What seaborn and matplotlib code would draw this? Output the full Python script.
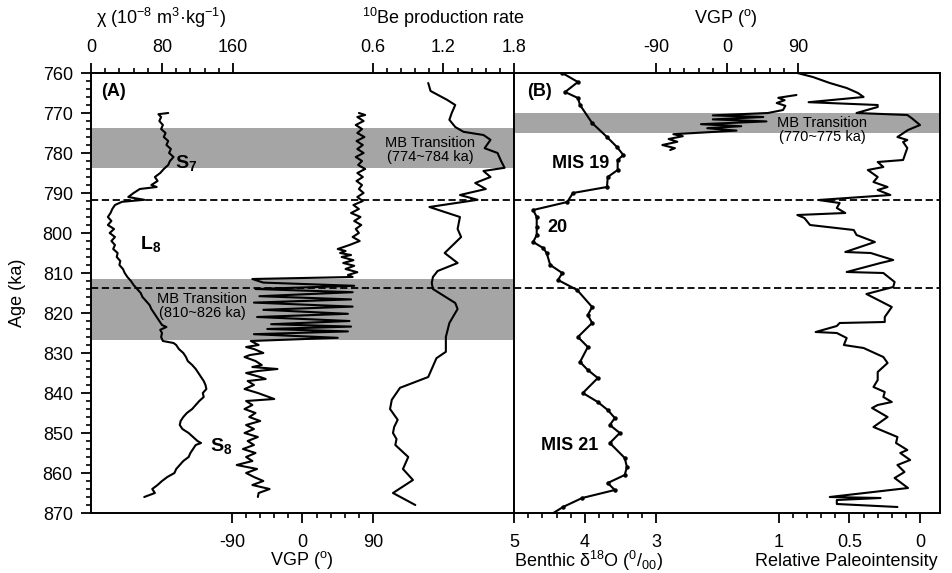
import numpy as np
import pandas as pd
import matplotlib
matplotlib.use('Agg')
import matplotlib.pyplot as plt
import seaborn as sns
from matplotlib.ticker import FixedLocator

sns.set_style('white')
plt.rcParams['font.family'] = ['Liberation Sans', 'DejaVu Sans']
plt.rcParams['mathtext.fontset'] = 'custom'
plt.rcParams['mathtext.rm'] = 'Liberation Sans'
plt.rcParams['mathtext.bf'] = 'Liberation Sans:bold'
plt.rcParams['mathtext.it'] = 'Liberation Sans:italic'
for k in ('text.color', 'axes.labelcolor', 'xtick.color', 'ytick.color'):
    plt.rcParams[k] = 'black'

# ---------------- data ----------------
chi_age = [770, 770.3, 771, 772, 773, 774, 775, 776, 777, 778, 779, 780, 781, 782, 783, 784, 785, 786,
           787, 788, 788.5, 789, 790, 791, 791.7, 792.2, 793, 794, 795, 796, 797, 798, 799, 800, 801,
           802, 803, 804, 805, 806, 807, 808, 809, 810, 811, 812, 813, 814, 815, 816, 817, 818, 819,
           820, 821, 822, 823, 823.5, 824.2, 825, 826, 827, 827.5, 828, 829, 830, 831, 832, 833, 834,
           835, 836, 837, 838, 839, 840, 841, 842, 843, 844, 845, 846, 847, 848, 849, 850, 851, 852,
           852.5, 853, 854, 855, 856, 857, 858, 859, 860, 861, 862, 863, 864, 865, 866]
chi_val = [87, 76, 79, 77, 81, 79, 84, 82, 87, 85, 90, 88, 93, 89, 87, 82, 78, 72,
           75, 68, 74, 55, 48, 42, 60, 35, 27, 24, 22, 19, 23, 19, 26, 21, 27,
           23, 27, 25, 30, 29, 33, 32, 36, 38, 41, 45, 48, 52, 56, 58, 62, 66, 68,
           71, 74, 77, 80, 85, 78, 80, 79, 81, 93, 96, 99, 104, 107, 109, 114, 118,
           121, 124, 127, 129, 130, 126, 127, 122, 118, 114, 108, 104, 101, 100, 103, 110, 115, 120,
           124, 118, 115, 112, 110, 104, 100, 96, 94, 86, 80, 75, 69, 72, 60]

vgpA_age = [770, 770.5, 771, 772, 773, 774, 775, 776, 777, 778, 779, 780, 781, 782, 783, 784, 785,
            786, 787, 788, 789, 790, 791, 792, 793, 794, 795, 796, 797, 798, 799, 800, 801, 802,
            803, 804, 804.5, 805, 805.5, 806, 806.8, 807.5, 808.2, 809, 809.8, 810.5, 811,
            811.5, 812.4, 813.2, 814.0, 814.8, 815.8, 816.6, 817.4, 818.4, 819.2, 820.2,
            821.0, 822.0, 822.8, 823.4, 824.0, 824.6, 825.3, 826.2,
            827, 828, 828.5, 829, 830, 830.5, 831, 832, 833, 833.5, 834, 834.5, 835, 836, 836.5,
            837, 838, 839, 840, 841.5, 842, 843, 844, 845, 846, 847, 848, 849, 850, 851, 852,
            853, 854, 855, 856, 857, 858, 859, 860, 861, 862, 863, 864, 865, 866]
vgpA_val = [72, 80, 70, 78, 68, 76, 70, 79, 69, 77, 70, 78, 68, 76, 71, 80, 70,
            77, 69, 76, 72, 78, 70, 77, 65, 72, 62, 74, 66, 75, 68, 72, 64, 73,
            60, 45, 55, 48, 62, 50, 65, 52, 66, 55, 70, 58, 64,
            -64, -50, 66, -60, 64, -55, 62, -62, 64, -50, 58,
            -58, 60, -40, 62, -45, 58, -62, 45,
            -66, -56, -72, -62, -50, -67, -74, -60, -52, -64, -32, -57, -72, -54, -47,
            -70, -62, -74, -57, -36, -72, -64, -74, -60, -68, -54, -72, -62, -74, -57, -70,
            -62, -76, -60, -72, -64, -84, -58, -72, -62, -50, -64, -42, -56, -57]

be_age = [762.5, 764.5, 766.7, 768, 770, 771.7, 773.5, 774.7, 775.5, 776.7, 778.8, 780, 782, 783.7,
          784.5, 786, 787.5, 789, 790.5, 791.7, 793.5, 796, 799, 801, 803, 805, 807.5, 809.5, 811,
          812.5, 814, 817.5, 819, 822.5, 826, 829.7, 831.3, 836, 838.7, 841.7, 844, 846.7, 848.5,
          850, 851.5, 853, 856, 859, 861.75, 865, 868]
be_val = [1.07, 1.09, 1.23, 1.30, 1.27, 1.25, 1.30, 1.37, 1.54, 1.60, 1.55, 1.66, 1.69, 1.72,
          1.54, 1.60, 1.47, 1.56, 1.34, 1.49, 1.08, 1.34, 1.32, 1.35, 1.28, 1.21, 1.32, 1.15, 1.11,
          1.10, 1.11, 1.30, 1.32, 1.25, 1.22, 1.22, 1.14, 1.07, 0.83, 0.76, 0.745, 0.81, 0.78,
          0.77, 0.80, 0.79, 0.90, 0.855, 0.94, 0.77, 0.96]

d18o_age = [760, 762.25, 764.75, 766.25, 768, 772.5, 776, 778.5, 780.5, 781.75, 784.25, 786, 788.5,
            790, 792.25, 794.25, 796, 798.5, 800.5, 802.25, 803.75, 805, 808, 810, 811.75, 814.25,
            818.5, 820.5, 822.5, 826, 828.5, 832.25, 834.25, 836.25, 840, 842.25, 844.25, 846.25,
            848, 850, 852.5, 856.25, 858.5, 860.5, 862.5, 864.25, 866.25, 868.5, 870.5]
d18o_val = [4.32, 4.10, 4.28, 4.10, 4.07, 3.90, 3.69, 3.55, 3.46, 3.54, 3.54, 3.68, 3.69,
            4.17, 4.25, 4.73, 4.68, 4.68, 4.68, 4.73, 4.59, 4.54, 4.49, 4.32, 4.38, 4.11,
            3.90, 3.96, 3.90, 4.10, 3.96, 4.07, 3.96, 3.82, 4.03, 3.82, 3.68, 3.58,
            3.65, 3.51, 3.65, 3.44, 3.41, 3.44, 3.68, 3.58, 4.04, 4.31, 4.49]

vgpB_age = [765.5, 766.2, 766.8, 767.5, 768.2, 769.25, 770.0, 770.6, 771.0, 771.6, 772.1, 772.8,
            773.3, 773.8, 774.4, 775.3, 775.8, 776.5, 777.2, 778.0, 778.8, 779.25]
vgpB_val = [88, 65, 73, 63, 74, 71, 52, -18, 46, -18, 50, -33,
            18, -25, 12, -68, -56, -74, -63, -82, -66, -72]

rpi_age = [760, 761, 762.5, 763.75, 765, 766, 767.3, 768, 768.5, 770, 770.5, 771.25, 773, 774.25,
           776, 776.75, 777.25, 778.75, 781.75, 782.25, 783.5, 784.25, 786, 787.25, 788.5, 789.25,
           790.5, 791.75, 792.5, 793.75, 795, 795.5, 796.25, 798, 799.25, 800.5, 802.25, 804.75,
           805, 806.75, 807.5, 809.75, 810, 812.25, 813.5, 815.25, 818.5, 821, 822.25, 822.5,
           823.25, 824.75, 825, 826.25, 828, 828.75, 831, 832.5, 834.75, 836.75, 838.5, 839.75,
           841, 842.25, 843, 843.75, 846, 848.5, 851, 852.5, 854.25, 855, 856.75, 858, 859.75,
           861.25, 863.75, 866, 866.25, 866.75, 867.75, 868.5]
rpi_val = [0.87, 0.76, 0.64, 0.52, 0.44, 0.40, 0.79, 0.30, 0.30, 0.45, 0.09, 0.06, 0.0, 0.085,
           0.16, 0.09, 0.12, 0.09, 0.12, 0.30, 0.26, 0.37, 0.30, 0.33, 0.23, 0.30,
           0.21, 0.72, 0.57, 0.59, 0.53, 0.87, 0.82, 0.78, 0.47, 0.45, 0.32, 0.53,
           0.35, 0.19, 0.28, 0.52, 0.26, 0.18, 0.19, 0.38, 0.20, 0.25, 0.25, 0.57,
           0.59, 0.74, 0.59, 0.52, 0.54, 0.40, 0.26, 0.23, 0.30, 0.30, 0.33, 0.25,
           0.26, 0.20, 0.30, 0.34, 0.23, 0.33, 0.16, 0.17, 0.09, 0.14, 0.07, 0.16, 0.11,
           0.18, 0.085, 0.64, 0.28, 0.59, 0.59, 0.16]

bands_A = [(773.8, 783.8), (811.5, 826.8)]
bands_B = [(770.0, 775.0)]
dashed_ages = [791.8, 813.8]

age_ticks = list(range(760, 871, 10))
chi_ticks = [0, 80, 160]
be_ticks = [0.6, 1.2, 1.8]
vgp_ticks = [-90, 0, 90]
d18o_ticks = [5, 4, 3]
rpi_ticks = [1, 0.5, 0]

# ---------------- figure ----------------
W, H = 953, 573
fig = plt.figure(figsize=(W / 100, H / 100), dpi=100)


def rect(x0, y0, x1, y1):
    return [x0 / W, 1 - y1 / H, (x1 - x0) / W, (y1 - y0) / H]


def T(x, y, s, **kw):
    kw.setdefault('ha', 'center')
    kw.setdefault('va', 'center')
    fig.text(x / W, 1 - y / H, s, **kw)


axA = fig.add_axes(rect(91, 73, 514, 513))
axB = fig.add_axes(rect(514, 73, 940, 513))

LW = 1.5
TICKFS = 13

for ax in (axA, axB):
    for sp in ax.spines.values():
        sp.set_visible(True)
        sp.set_linewidth(1.4)
        sp.set_color('black')
    ax.set_facecolor('white')


def style_x(ax, major, minor, side):
    ax.xaxis.set_major_locator(FixedLocator(major))
    ax.xaxis.set_minor_locator(FixedLocator(minor))
    ax.xaxis.set_ticks_position(side)
    ax.tick_params(axis='x', which='major', direction='out', length=7, width=1.3,
                   labelsize=TICKFS, pad=(5 if side == 'top' else 8), color='black')
    ax.tick_params(axis='x', which='minor', direction='out', length=3.5, width=1.2, color='black')
    ax.set_xticklabels([('%g' % t) for t in major])
    ax.set_xlabel('')


# ---- Panel A ----
axA_chi = axA.twiny()
axA_be = axA.twiny()
for tw in (axA_chi, axA_be):
    for sp in tw.spines.values():
        sp.set_visible(False)

for a, b in bands_A:
    axA.axhspan(a, b, color='#a5a5a5', lw=0, zorder=0)
for y in dashed_ages:
    axA.axhline(y, color='black', lw=1.3, ls=(0, (4, 2)), zorder=1)
    axB.axhline(y, color='black', lw=1.3, ls=(0, (4, 2)), zorder=1)

dfA_vgp = pd.DataFrame({'age': vgpA_age, 'vgp': vgpA_val})
dfA_chi = pd.DataFrame({'age': chi_age, 'chi': chi_val})
dfA_be = pd.DataFrame({'age': be_age, 'be': be_val})
sns.lineplot(data=dfA_vgp, x='vgp', y='age', sort=False, estimator=None, ax=axA, color='black', lw=LW, zorder=3)
sns.lineplot(data=dfA_chi, x='chi', y='age', sort=False, estimator=None, ax=axA_chi, color='black', lw=LW)
sns.lineplot(data=dfA_be, x='be', y='age', sort=False, estimator=None, ax=axA_be, color='black', lw=LW)

axA.set_xlim(-270, 270)
axA_chi.set_xlim(0, 160 * 423 / 142)
axA_be.set_xlim(-1.8, 1.8)
axA.set_ylim(870, 760)

style_x(axA, vgp_ticks, [-90 + 18 * i for i in range(11)], 'bottom')
style_x(axA_chi, chi_ticks, [16 * i for i in range(11)], 'top')
style_x(axA_be, be_ticks, [0.6 + 0.12 * i for i in range(11)], 'top')

axA.yaxis.set_major_locator(FixedLocator(age_ticks))
axA.yaxis.set_minor_locator(FixedLocator(list(range(760, 871, 2))))
axA.yaxis.set_ticks_position('left')
axA.tick_params(axis='y', which='major', direction='out', length=7, width=1.3, labelsize=TICKFS, pad=6)
axA.tick_params(axis='y', which='minor', direction='out', length=3.5, width=1.2)
axA.set_ylabel('')

# ---- Panel B ----
axB_rpi = axB.twiny()
axB_vgp = axB.twiny()
for tw in (axB_rpi, axB_vgp):
    for sp in tw.spines.values():
        sp.set_visible(False)

for a, b in bands_B:
    axB.axhspan(a, b, color='#a5a5a5', lw=0, zorder=0)

dfB_d = pd.DataFrame({'age': d18o_age, 'd18o': d18o_val})
dfB_v = pd.DataFrame({'age': vgpB_age, 'vgp': vgpB_val})
dfB_r = pd.DataFrame({'age': rpi_age, 'rpi': rpi_val})
sns.lineplot(data=dfB_d, x='d18o', y='age', sort=False, estimator=None, ax=axB, color='black', lw=LW,
             marker='o', markersize=3.2, markeredgewidth=0, zorder=3)
sns.lineplot(data=dfB_v, x='vgp', y='age', sort=False, estimator=None, ax=axB_vgp, color='black', lw=LW)
sns.lineplot(data=dfB_r, x='rpi', y='age', sort=False, estimator=None, ax=axB_rpi, color='black', lw=LW)

axB.set_xlim(5, -1)
axB_rpi.set_xlim(1 + 265 / 141, -20 / 141)
axB_vgp.set_xlim(-270, 270)
axB.set_ylim(870, 760)

style_x(axB, d18o_ticks, [5 - 0.2 * i for i in range(11)], 'bottom')
style_x(axB_rpi, rpi_ticks, [1 - 0.1 * i for i in range(11)], 'bottom')
style_x(axB_vgp, vgp_ticks, [-90 + 18 * i for i in range(11)], 'top')
axB.tick_params(axis='y', left=False, right=False, labelleft=False)
axB.set_ylabel('')
for tw in (axA_chi, axA_be, axB_rpi, axB_vgp):
    tw.set_ylabel('')
    tw.tick_params(axis='y', left=False, right=False, labelleft=False, labelright=False)

# ---- axis titles ----
LFS = 13
T(18, 293, 'Age (ka)', rotation=90, fontsize=LFS)
T(161, 18, r'χ (10$^{\mathregular{-8}}$ m$^{\mathregular{3}}$·kg$^{\mathregular{-1}}$)', fontsize=LFS)
T(443, 18, r'$^{\mathregular{10}}$Be production rate', fontsize=LFS)
T(726, 18, r'VGP ($^{\mathregular{o}}$)', fontsize=LFS)
T(302, 560, r'VGP ($^{\mathregular{o}}$)', fontsize=LFS)
T(589, 561, r'Benthic δ$^{\mathregular{18}}$O ($^{\mathregular{0}}$/$_{\mathregular{00}}$)', fontsize=LFS)
T(846, 561, 'Relative Paleointensity', fontsize=LFS)

# ---- annotations ----
BFS = 13
T(114, 91, '(A)', fontsize=BFS, fontweight='bold')
T(186, 163, r'$\mathbf{S}_{\mathbf{7}}$', fontsize=BFS + 1)
T(151, 244, r'$\mathbf{L}_{\mathbf{8}}$', fontsize=BFS + 1)
T(221, 446, r'$\mathbf{S}_{\mathbf{8}}$', fontsize=BFS + 1)
T(202, 306, 'MB Transition\n(810~826 ka)', fontsize=10.5, linespacing=0.95)
T(430, 150, 'MB Transition\n(774~784 ka)', fontsize=10.5, linespacing=0.95)
T(540, 92, '(B)', fontsize=BFS, fontweight='bold')
T(581, 164, 'MIS 19', fontsize=BFS, fontweight='bold')
T(557, 228, '20', fontsize=BFS, fontweight='bold')
T(570, 445, 'MIS 21', fontsize=BFS, fontweight='bold')
T(822, 130, 'MB Transition\n(770~775 ka)', fontsize=10.5, linespacing=0.95)

fig.savefig('out.png', dpi=100)
